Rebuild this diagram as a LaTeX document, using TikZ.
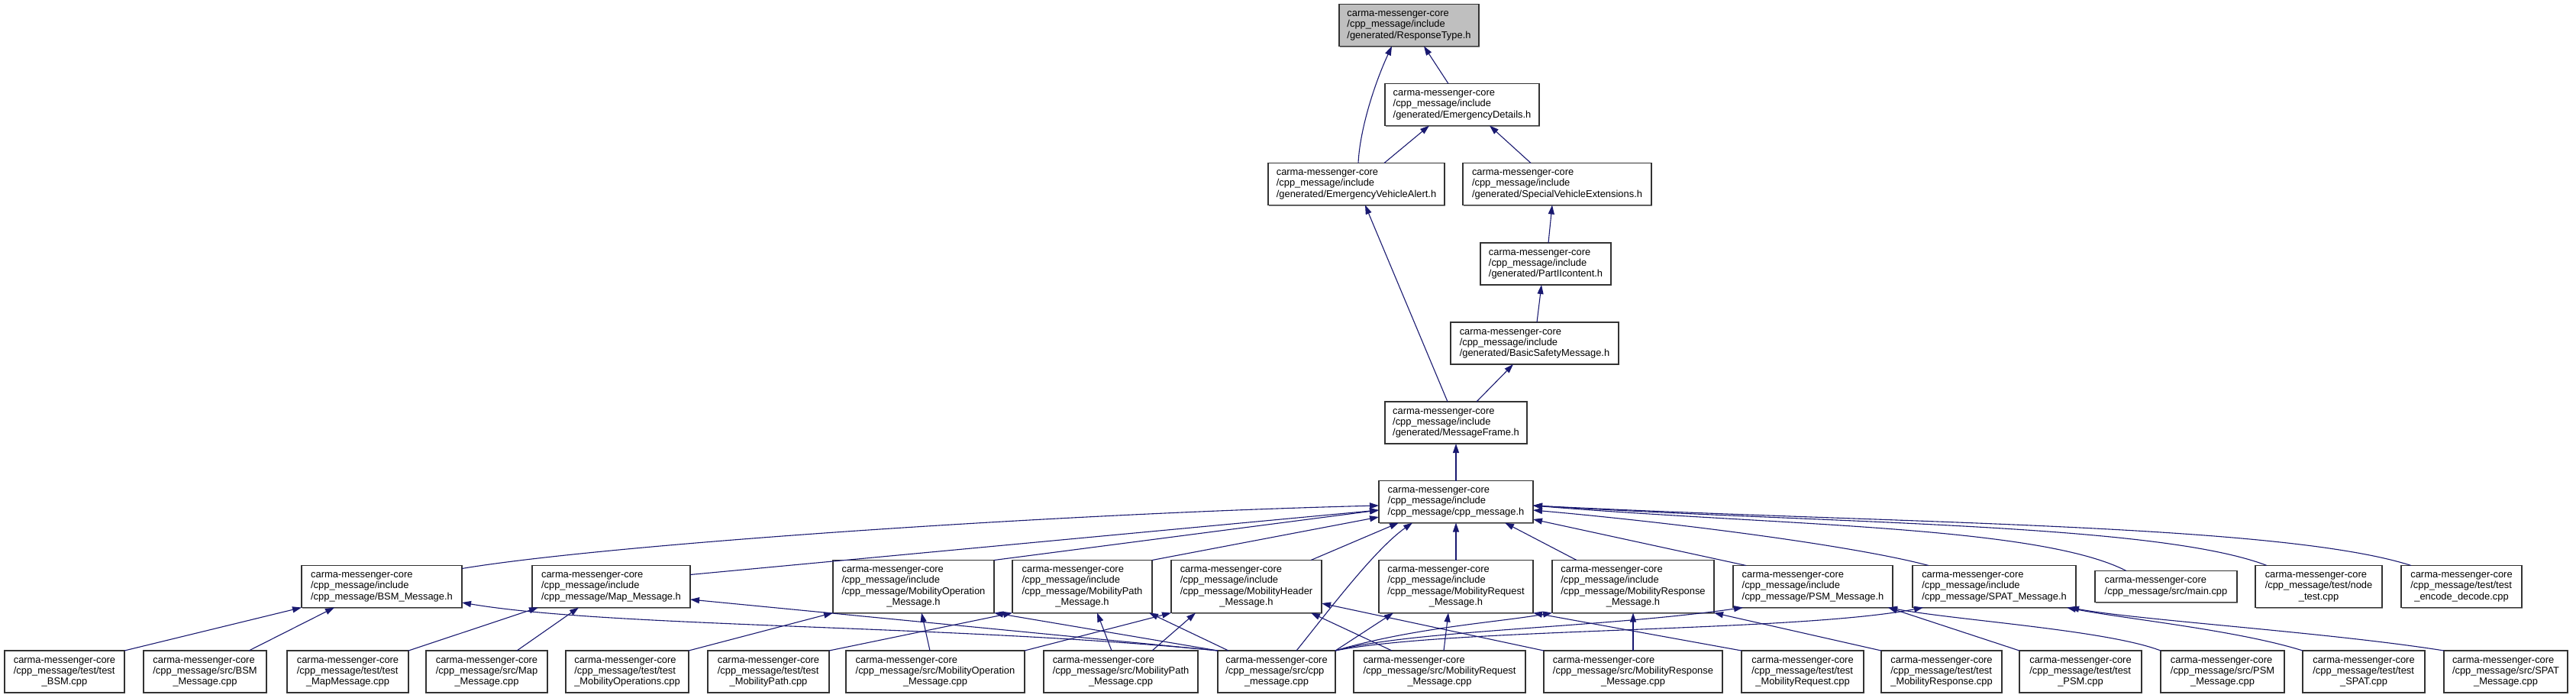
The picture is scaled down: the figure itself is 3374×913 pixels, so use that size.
\documentclass[tikz,border=0pt]{standalone}
\usepackage{fontspec}
\setmainfont{Liberation Sans}
\usetikzlibrary{arrows.meta,shadows}
\definecolor{edgec}{HTML}{191970}
\definecolor{rtfill}{HTML}{BFBFBF}
\definecolor{boxline}{HTML}{333333}
\newcommand\lb[2]{\begin{tabular}{@{}l@{}}#1\\\multicolumn{1}{@{}c@{}}{#2}\end{tabular}}
\newcommand\cmc{carma-messenger-core}
\tikzset{
  nbox/.style={draw=boxline, line width=1.3pt, fill=white, inner sep=2pt, outer sep=0pt,
    font=\fontsize{12.9}{14.3}\selectfont,
    drop shadow={shadow xshift=1.3pt, shadow yshift=-1.3pt, fill=black!45, opacity=1}},
  h3/.style={minimum height=55},
  h4/.style={minimum height=69},
  h2/.style={minimum height=41},
  conn/.style={draw=edgec, line width=1.1pt, -{Triangle[length=12pt,width=8pt]}}
}
\begin{document}
\begin{tikzpicture}[x=1pt,y=-1pt]
\useasboundingbox (0,0) rectangle (3374,913);
% upper chain
\node[nbox,h3,fill=rtfill,minimum width=183] (rt) at (1845.5,33) {\lb{\cmc\\/cpp\_message/include}{/generated/ResponseType.h}};
\node[nbox,h3,minimum width=202] (ed) at (1915,137) {\lb{\cmc\\/cpp\_message/include}{/generated/EmergencyDetails.h}};
\node[nbox,h3,minimum width=231] (eva) at (1776.5,241) {\lb{\cmc\\/cpp\_message/include}{/generated/EmergencyVehicleAlert.h}};
\node[nbox,h3,minimum width=247] (sve) at (2039.5,241) {\lb{\cmc\\/cpp\_message/include}{/generated/SpecialVehicleExtensions.h}};
\node[nbox,h3,minimum width=171] (p2) at (2024.5,345.5) {\lb{\cmc\\/cpp\_message/include}{/generated/PartIIcontent.h}};
\node[nbox,h3,minimum width=220] (bsmh) at (2010,449.5) {\lb{\cmc\\/cpp\_message/include}{/generated/BasicSafetyMessage.h}};
\node[nbox,h3,minimum width=186] (mf) at (1907,553.5) {\lb{\cmc\\/cpp\_message/include}{/generated/MessageFrame.h}};
\node[nbox,h3,minimum width=202] (cpp) at (1907,657) {\lb{\cmc\\/cpp\_message/include}{/cpp\_message/cpp\_message.h}};
% middle row
\node[nbox,h3,minimum width=210] (bsmm) at (500,768) {\lb{\cmc\\/cpp\_message/include}{/cpp\_message/BSM\_Message.h}};
\node[nbox,h3,minimum width=207] (map) at (800.5,768) {\lb{\cmc\\/cpp\_message/include}{/cpp\_message/Map\_Message.h}};
\node[nbox,h4,minimum width=211] (mo) at (1196.5,768) {\lb{\cmc\\/cpp\_message/include\\/cpp\_message/MobilityOperation}{\_Message.h}};
\node[nbox,h4,minimum width=183] (mp) at (1417.5,768) {\lb{\cmc\\/cpp\_message/include\\/cpp\_message/MobilityPath}{\_Message.h}};
\node[nbox,h4,minimum width=197] (mh) at (1632.5,768) {\lb{\cmc\\/cpp\_message/include\\/cpp\_message/MobilityHeader}{\_Message.h}};
\node[nbox,h4,minimum width=202] (mreq) at (1907,768) {\lb{\cmc\\/cpp\_message/include\\/cpp\_message/MobilityRequest}{\_Message.h}};
\node[nbox,h4,minimum width=212] (mresp) at (2139,768) {\lb{\cmc\\/cpp\_message/include\\/cpp\_message/MobilityResponse}{\_Message.h}};
\node[nbox,h3,minimum width=209] (psm) at (2374.5,768) {\lb{\cmc\\/cpp\_message/include}{/cpp\_message/PSM\_Message.h}};
\node[nbox,h3,minimum width=214] (spat) at (2612,768) {\lb{\cmc\\/cpp\_message/include}{/cpp\_message/SPAT\_Message.h}};
\node[nbox,h2,minimum width=186] (main) at (2837,768) {\lb{\cmc}{/cpp\_message/src/main.cpp}};
\node[nbox,h3,minimum width=166] (nt) at (3037,768) {\lb{\cmc\\/cpp\_message/test/node}{\_test.cpp}};
\node[nbox,h3,minimum width=158] (tenc) at (3224,768) {\lb{\cmc\\/cpp\_message/test/test}{\_encode\_decode.cpp}};
% bottom row
\node[nbox,h3,minimum width=157] (tbsm) at (84.5,879.5) {\lb{\cmc\\/cpp\_message/test/test}{\_BSM.cpp}};
\node[nbox,h3,minimum width=161] (sbsm) at (268.5,879.5) {\lb{\cmc\\/cpp\_message/src/BSM}{\_Message.cpp}};
\node[nbox,h3,minimum width=159] (tmap) at (455.5,879.5) {\lb{\cmc\\/cpp\_message/test/test}{\_MapMessage.cpp}};
\node[nbox,h3,minimum width=159] (smap) at (637.5,879.5) {\lb{\cmc\\/cpp\_message/src/Map}{\_Message.cpp}};
\node[nbox,h3,minimum width=161] (tmo) at (821.5,879.5) {\lb{\cmc\\/cpp\_message/test/test}{\_MobilityOperations.cpp}};
\node[nbox,h3,minimum width=159] (tmp) at (1006.5,879.5) {\lb{\cmc\\/cpp\_message/test/test}{\_MobilityPath.cpp}};
\node[nbox,h3,minimum width=234] (smo) at (1225,879.5) {\lb{\cmc\\/cpp\_message/src/MobilityOperation}{\_Message.cpp}};
\node[nbox,h3,minimum width=202] (smp) at (1468,879.5) {\lb{\cmc\\/cpp\_message/src/MobilityPath}{\_Message.cpp}};
\node[nbox,h3,minimum width=154] (scpp) at (1672,879.5) {\lb{\cmc\\/cpp\_message/src/cpp}{\_message.cpp}};
\node[nbox,h3,minimum width=225] (smreq) at (1885.5,879.5) {\lb{\cmc\\/cpp\_message/src/MobilityRequest}{\_Message.cpp}};
\node[nbox,h3,minimum width=234] (smresp) at (2139,879.5) {\lb{\cmc\\/cpp\_message/src/MobilityResponse}{\_Message.cpp}};
\node[nbox,h3,minimum width=160] (tmreq) at (2361,879.5) {\lb{\cmc\\/cpp\_message/test/test}{\_MobilityRequest.cpp}};
\node[nbox,h3,minimum width=158] (tmresp) at (2543,879.5) {\lb{\cmc\\/cpp\_message/test/test}{\_MobilityResponse.cpp}};
\node[nbox,h3,minimum width=160] (tpsm) at (2725,879.5) {\lb{\cmc\\/cpp\_message/test/test}{\_PSM.cpp}};
\node[nbox,h3,minimum width=162] (spsm) at (2911,879.5) {\lb{\cmc\\/cpp\_message/src/PSM}{\_Message.cpp}};
\node[nbox,h3,minimum width=160] (tspat) at (3096,879.5) {\lb{\cmc\\/cpp\_message/test/test}{\_SPAT.cpp}};
\node[nbox,h3,minimum width=162] (sspat) at (3282,879.5) {\lb{\cmc\\/cpp\_message/src/SPAT}{\_Message.cpp}};
% upper edges
\draw[conn] ([xshift=118]eva.north west) .. controls (1781,170) and (1800,110) .. ([xshift=69]rt.south west);
\draw[conn] ([xshift=83]ed.north west) -- ([xshift=111]rt.south west);
\draw[conn] ([xshift=152]eva.north west) -- ([xshift=58]ed.south west);
\draw[conn] ([xshift=89]sve.north west) -- ([xshift=137]ed.south west);
\draw[conn] ([xshift=82]mf.north west) -- ([xshift=127]eva.south west);
\draw[conn] ([xshift=89]p2.north west) -- ([xshift=117]sve.south west);
\draw[conn] ([xshift=113]bsmh.north west) -- ([xshift=80]p2.south west);
\draw[conn] ([xshift=120]mf.north west) -- ([xshift=82]bsmh.south west);
\draw[conn] (cpp.north) -- (mf.south);
% middle to cpp_message.h
\draw[conn] ([yshift=-4]bsmm.north east) .. controls (800,712) and (1400,672) .. ([yshift=-32.5]cpp.north west);
\draw[conn] ([yshift=-12]map.north east) -- ([yshift=-38.5]cpp.north west);
\draw[conn] (mo.north east) -- ([yshift=-38.5]cpp.north west);
\draw[conn] (mp.north east) -- ([yshift=-47.5]cpp.north west);
\draw[conn] ([xshift=183]mh.north west) -- ([xshift=26]cpp.south west);
\draw[conn] (mreq.north) -- (cpp.south);
\draw[conn] ([xshift=32]mresp.north west) -- ([xshift=165]cpp.south west);
\draw[conn] ([xshift=17]psm.north west) -- ([yshift=-50.5]cpp.north east);
\draw[conn] ([xshift=21]spat.north west) .. controls (2430,715) and (2200,685) .. ([yshift=-38.5]cpp.north east);
\draw[conn] ([xshift=41]main.north west) .. controls (2669,688) and (2322,688) .. ([yshift=-32.5]cpp.north east);
\draw[conn] ([xshift=15]nt.north west) .. controls (2826,685.5) and (2395,685.5) .. ([yshift=-32.5]cpp.north east);
\draw[conn] ([xshift=13]tenc.north west) .. controls (2986,685.5) and (2471,685.5) .. ([yshift=-32.5]cpp.north east);
% bottom to middle
\draw[conn] (tbsm.north east) -- (bsmm.south west);
\draw[conn] ([xshift=138]sbsm.north west) -- ([xshift=43]bsmm.south west);
\draw[conn] (scpp.north west) .. controls (1250,818) and (800,822) .. ([yshift=6.5]bsmm.south east);
\draw[conn] (tmap.north east) -- ([xshift=8]map.south west);
\draw[conn] ([xshift=119]smap.north west) -- ([xshift=61]map.south west);
\draw[conn] (scpp.north west) -- ([yshift=10.5]map.south east);
\draw[conn] (tmo.north east) -- (mo.south west);
\draw[conn] ([xshift=110]smo.north west) -- ([xshift=116]mo.south west);
\draw[conn] (scpp.north west) -- (mo.south east);
\draw[conn] (tmp.north east) -- (mp.south west);
\draw[conn] ([xshift=89]smp.north west) -- ([xshift=111]mp.south west);
\draw[conn] ([xshift=14]scpp.north west) -- ([xshift=179]mp.south west);
\draw[conn] (smo.north east) -- (mh.south west);
\draw[conn] ([xshift=142]smp.north west) -- ([xshift=32]mh.south west);
\draw[conn] ([xshift=50]smreq.north west) -- ([xshift=183]mh.south west);
\draw[conn] (smresp.north west) -- ([yshift=12.5]mh.south east);
\draw[conn] ([xshift=103]scpp.north west) .. controls (1740,800) and (1800,720) .. ([xshift=44]cpp.south west);
\draw[conn] (scpp.north east) -- ([xshift=19]mreq.south west);
\draw[conn] ([xshift=118]smreq.north west) -- ([xshift=91]mreq.south west);
\draw[conn] (tmreq.north west) -- (mreq.south east);
\draw[conn] (scpp.north east) .. controls (1850,822) and (1960,815) .. (mresp.south west);
\draw[conn] (smresp.north) -- (mresp.south);
\draw[conn] (tmresp.north west) -- (mresp.south east);
\draw[conn] (scpp.north east) .. controls (1850,825) and (2100,822) .. ([xshift=13]psm.south west);
\draw[conn] (scpp.north east) .. controls (1900,822) and (2350,828) .. ([xshift=14]spat.south west);
\draw[conn] (tpsm.north west) -- ([xshift=-6]psm.south east);
\draw[conn] (spsm.north west) .. controls (2760,825) and (2560,812) .. ([xshift=-6]psm.south east);
\draw[conn] (tspat.north west) .. controls (2930,825) and (2780,810) .. ([xshift=-12]spat.south east);
\draw[conn] (sspat.north west) .. controls (3050,828) and (2800,812) .. ([xshift=-8]spat.south east);
\end{tikzpicture}
\end{document}
